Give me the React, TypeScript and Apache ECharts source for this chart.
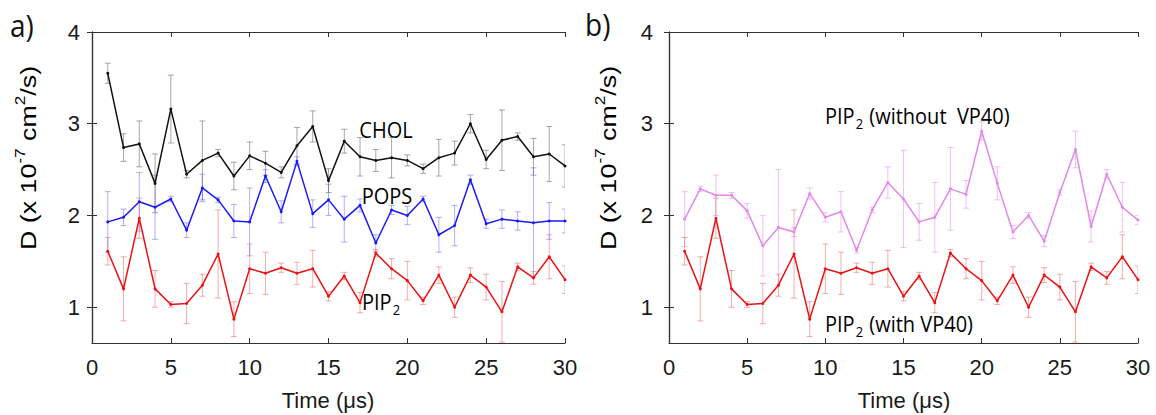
import React, { useEffect, useRef } from "react";
import * as echarts from "echarts";

const TIME = [1, 2, 3, 4, 5, 6, 7, 8, 9, 10, 11, 12, 13, 14, 15, 16, 17, 18, 19, 20, 21, 22, 23, 24, 25, 26, 27, 28, 29, 30];
const Y_TICKS = [1, 2, 3, 4];

const CHOL = [3.55, 2.74, 2.78, 2.35, 3.16, 2.45, 2.60, 2.68, 2.43, 2.65, 2.57, 2.47, 2.76, 2.97, 2.38, 2.81, 2.64, 2.60, 2.63, 2.60, 2.51, 2.63, 2.68, 3.00, 2.61, 2.82, 2.86, 2.64, 2.67, 2.54];
const CHOL_ERR = [0.11, 0.15, 0.25, 0.32, 0.37, 0.04, 0.43, 0.04, 0.15, 0.15, 0.13, 0.06, 0.2, 0.17, 0.13, 0.13, 0.21, 0.12, 0.22, 0.06, 0.05, 0.2, 0.13, 0.1, 0.1, 0.33, 0.04, 0.2, 0.3, 0.23];

const POPS = [1.93, 1.98, 2.15, 2.09, 2.18, 1.84, 2.30, 2.17, 1.94, 1.93, 2.43, 2.04, 2.59, 2.02, 2.17, 1.96, 2.11, 1.70, 2.06, 2.00, 2.18, 1.79, 1.89, 2.39, 1.91, 1.96, 1.94, 1.92, 1.94, 1.94];
const POPS_ERR = [0.33, 0.09, 0.32, 0.35, 0.03, 0.08, 0.15, 0.03, 0.18, 0.37, 0.07, 0.12, 0.05, 0.15, 0.17, 0.25, 0.07, 0.09, 0.05, 0.1, 0.03, 0.19, 0.22, 0.05, 0.05, 0.1, 0.1, 0.6, 0.2, 0.13];

const PIP2 = [1.61, 1.20, 1.97, 1.20, 1.03, 1.04, 1.24, 1.58, 0.87, 1.42, 1.37, 1.43, 1.37, 1.42, 1.12, 1.34, 1.05, 1.59, 1.42, 1.29, 1.07, 1.35, 1.00, 1.35, 1.22, 0.95, 1.44, 1.32, 1.55, 1.30];
const PIP2_ERR = [0.15, 0.35, 0.22, 0.2, 0.03, 0.22, 0.12, 0.48, 0.19, 0.27, 0.23, 0.05, 0.12, 0.2, 0.05, 0.04, 0.11, 0.04, 0.11, 0.21, 0.04, 0.09, 0.11, 0.08, 0.14, 0.33, 0.04, 0.07, 0.24, 0.15];

const PIP2_NO_VP40 = [1.96, 2.29, 2.22, 2.22, 2.05, 1.67, 1.87, 1.82, 2.24, 1.98, 2.04, 1.62, 2.06, 2.36, 2.18, 1.93, 1.98, 2.29, 2.23, 2.92, 2.35, 1.82, 2.00, 1.72, 2.25, 2.72, 1.88, 2.45, 2.09, 1.95];
const PIP2_NO_VP40_ERR = [0.3, 0.03, 0.22, 0.03, 0.08, 0.33, 0.63, 0.05, 0.06, 0.05, 0.22, 0.03, 0.03, 0.17, 0.53, 0.2, 0.38, 0.45, 0.15, 0.1, 0.18, 0.07, 0.03, 0.06, 0.03, 0.2, 0.17, 0.05, 0.27, 0.05];

const Y_MIN = 0.61;
const Y_MAX = 4;

const AXIS_COLOR = "#333";
const TICK_FONT = "Liberation Sans";
const NOTE_FONT = "Open Sans";

function pts(vals: number[]) {
  return TIME.map((t, i) => [t, vals[i]]);
}
function errPts(vals: number[], errs: number[]) {
  return TIME.map((t, i) => [t, vals[i], errs[i]]);
}

function lineSeries(vals: number[], color: string, g: number) {
  return {
    type: "line",
    xAxisIndex: g * 2,
    yAxisIndex: g * 2,
    data: pts(vals),
    symbol: "circle",
    symbolSize: 3,
    showSymbol: true,
    itemStyle: { color },
    lineStyle: { color, width: 1.5 },
    z: 5,
  };
}

function errSeries(vals: number[], errs: number[], color: string, g: number) {
  return {
    type: "custom",
    xAxisIndex: g * 2,
    yAxisIndex: g * 2,
    clip: true,
    data: errPts(vals, errs),
    encode: { x: 0, y: 1 },
    z: 3,
    renderItem: (params: any, api: any) => {
      const x = api.value(0);
      const y = api.value(1);
      const e = api.value(2);
      const top = api.coord([x, Math.min(y + e, Y_MAX)]);
      const bot = api.coord([x, Math.max(y - e, Y_MIN)]);
      const cw = 3;
      const style = { stroke: color, lineWidth: 1 };
      const children: any[] = [
        { type: "line", shape: { x1: top[0], y1: top[1], x2: bot[0], y2: bot[1] }, style },
        { type: "line", shape: { x1: top[0] - cw, y1: top[1], x2: top[0] + cw, y2: top[1] }, style },
        { type: "line", shape: { x1: bot[0] - cw, y1: bot[1], x2: bot[0] + cw, y2: bot[1] }, style },
      ];
      return { type: "group", children };
    },
  };
}

function axesFor(g: number) {
  const lineStyle = { color: AXIS_COLOR, width: 1.2 };
  const tick = { show: true, inside: true, length: 5, lineStyle: { color: AXIS_COLOR, width: 1 } };
  const xs = [
    {
      type: "value", gridIndex: g, position: "bottom", min: 0, max: 30, interval: 5,
      axisLine: { show: true, lineStyle }, axisTick: tick, splitLine: { show: false },
      axisLabel: { show: true, margin: 13, color: "#1a1a1a", fontFamily: TICK_FONT, fontSize: 22 },
    },
    {
      type: "value", gridIndex: g, position: "top", min: 0, max: 30, interval: 5,
      axisLine: { show: true, lineStyle }, axisTick: tick, splitLine: { show: false },
      axisLabel: { show: false },
    },
  ];
  const ys = [
    {
      type: "value", gridIndex: g, position: "left", min: Y_MIN, max: Y_MAX,
      axisLine: { show: true, lineStyle },
      axisTick: { ...tick, customValues: Y_TICKS }, splitLine: { show: false },
      axisLabel: { show: true, customValues: Y_TICKS, margin: g === 0 ? 12 : 16, color: "#1a1a1a", fontFamily: TICK_FONT, fontSize: 22 },
    },
    {
      type: "value", gridIndex: g, position: "right", min: Y_MIN, max: Y_MAX,
      axisLine: { show: true, lineStyle },
      axisTick: { ...tick, customValues: Y_TICKS }, splitLine: { show: false },
      axisLabel: { show: false },
    },
  ];
  return { xs, ys };
}

const noteRich = {
  m: { fontFamily: NOTE_FONT, fontSize: 20, lineHeight: 22, verticalAlign: "middle", color: "#111" },
  sub: { fontFamily: NOTE_FONT, fontSize: 13, lineHeight: 13, padding: [13, 1, 0, 1], verticalAlign: "middle", color: "#111" },
};

function note(x: number, y: number, text: string, align: string) {
  return {
    type: "text",
    x, y,
    scaleY: 1.1,
    style: { text, rich: noteRich, align, verticalAlign: "middle" },
  };
}

const ylabRich = {
  m: { fontFamily: TICK_FONT, fontSize: 22, lineHeight: 26, verticalAlign: "middle", color: "#1a1a1a" },
  sup: { fontFamily: TICK_FONT, fontSize: 14, lineHeight: 14, padding: [0, 0, 16, 0], verticalAlign: "middle", color: "#1a1a1a" },
};

function yLabel(x: number, y: number) {
  return {
    type: "text",
    x, y,
    rotation: Math.PI / 2,
    scaleX: 1.22,
    style: {
      text: "{m|D (x 10}{sup|-7}{m| cm}{sup|2}{m|/s)}",
      rich: ylabRich,
      align: "center",
      verticalAlign: "middle",
    },
  };
}

function timeLabel(x: number, y: number) {
  return {
    type: "text",
    x, y,
    style: { text: "Time (\u03bcs)", fontFamily: TICK_FONT, fontSize: 22, fill: "#1a1a1a", align: "center", verticalAlign: "middle" },
  };
}

function panelLabel(x: number, y: number, text: string) {
  return {
    type: "text",
    x, y,
    scaleY: 1.12,
    style: { text, fontFamily: NOTE_FONT, fontSize: 28, fill: "#111", align: "left", verticalAlign: "middle" },
  };
}

export default function App() {
  const ref = useRef<HTMLDivElement>(null);
  useEffect(() => {
    if (!ref.current) return;
    const chart = echarts.init(ref.current, undefined, { renderer: "svg" });
    const a0 = axesFor(0);
    const a1 = axesFor(1);
    const option: any = {
      animation: false,
      backgroundColor: "#fff",
      grid: [
        { left: 92, top: 32, width: 473, height: 311 },
        { left: 669, top: 32, width: 469, height: 311 },
      ],
      xAxis: [...a0.xs, ...a1.xs],
      yAxis: [...a0.ys, ...a1.ys],
      series: [
        errSeries(CHOL, CHOL_ERR, "rgba(120,120,120,0.65)", 0),
        errSeries(POPS, POPS_ERR, "rgba(80,80,255,0.45)", 0),
        errSeries(PIP2, PIP2_ERR, "rgba(240,70,70,0.45)", 0),
        lineSeries(CHOL, "#111", 0),
        lineSeries(POPS, "#1a1aff", 0),
        lineSeries(PIP2, "#ee1111", 0),
        errSeries(PIP2_NO_VP40, PIP2_NO_VP40_ERR, "rgba(230,140,235,0.55)", 1),
        errSeries(PIP2, PIP2_ERR, "rgba(240,70,70,0.45)", 1),
        lineSeries(PIP2_NO_VP40, "#e487ea", 1),
        lineSeries(PIP2, "#ee1111", 1),
      ],
      graphic: [
        panelLabel(10, 25, "a)"),
        panelLabel(585, 24, "b)"),
        yLabel(28, 158),
        yLabel(608, 158),
        timeLabel(328, 400),
        timeLabel(904, 400),
        note(386, 130, "{m|CHOL}", "center"),
        note(387, 196, "{m|POPS}", "center"),
        note(362, 302, "{m|PIP}{sub|2}", "left"),
        note(825, 116, "{m|PIP}{sub|2}{m| (without  VP40)}", "left"),
        note(825, 324, "{m|PIP}{sub|2}{m| (with VP40)}", "left"),
      ],
    };
    chart.setOption(option);
    return () => chart.dispose();
  }, []);
  return (
    <div
      ref={ref}
      style={{ position: "fixed", left: 0, top: 0, width: 1156, height: 415, background: "#fff" }}
    />
  );
}
